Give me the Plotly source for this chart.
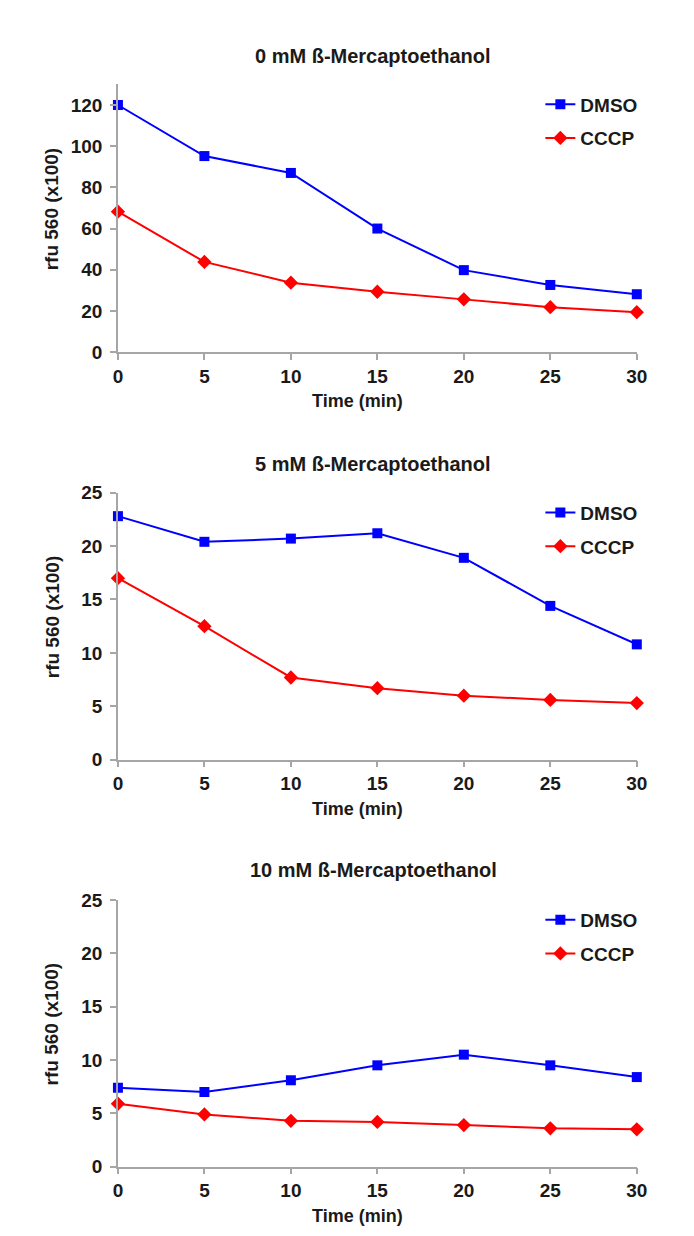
import plotly.graph_objects as go

time_min = [0, 5, 10, 15, 20, 25, 30]
x_ticks = [0, 5, 10, 15, 20, 25, 30]

titles = ["0 mM ß-Mercaptoethanol", "5 mM ß-Mercaptoethanol", "10 mM ß-Mercaptoethanol"]

dmso_0mM = [120.0, 95.2, 87.0, 60.0, 39.8, 32.6, 28.1]
cccp_0mM = [68.2, 43.8, 33.7, 29.3, 25.6, 21.8, 19.4]

dmso_5mM = [22.8, 20.4, 20.7, 21.2, 18.9, 14.4, 10.8]
cccp_5mM = [17.0, 12.5, 7.7, 6.7, 6.0, 5.6, 5.3]

dmso_10mM = [7.4, 7.0, 8.1, 9.5, 10.5, 9.5, 8.4]
cccp_10mM = [5.9, 4.9, 4.3, 4.2, 3.9, 3.6, 3.5]

y_ranges = [[0, 130], [0, 25], [0, 25]]
y_dticks = [20, 5, 5]

W, H = 694, 1236
FONT = "Liberation Sans, Arial, sans-serif"
TXT = "#1a1a1a"
AX = "#a6a6a6"
BLUE = "#0000ff"
RED = "#ff0000"

# panel pixel geometry (top, bottom) of plot area
panels = [(75.7, 348.0), (491.0, 762.7), (905.3, 1176.7)]
x_left, x_right = 115.6, 646.7

fig = go.Figure()
series = [(dmso_0mM, cccp_0mM), (dmso_5mM, cccp_5mM), (dmso_10mM, cccp_10mM)]

for i, (d, c) in enumerate(series):
    n = "" if i == 0 else str(i + 1)
    leg = "legend" if i == 0 else f"legend{i+1}"
    fig.add_trace(go.Scatter(
        x=time_min, y=d, mode="lines+markers", name="DMSO",
        line=dict(color=BLUE, width=2),
        marker=dict(symbol="square", size=10, color=BLUE),
        xaxis=f"x{n}", yaxis=f"y{n}", legend=leg, legendgroup=f"d{i}",
        cliponaxis=False))
    fig.add_trace(go.Scatter(
        x=time_min, y=c, mode="lines+markers", name="CCCP",
        line=dict(color=RED, width=2),
        marker=dict(symbol="diamond", size=11, color=RED),
        xaxis=f"x{n}", yaxis=f"y{n}", legend=leg, legendgroup=f"c{i}",
        cliponaxis=False))

layout = dict(
    width=W, height=H, margin=dict(l=0, r=0, t=0, b=0),
    paper_bgcolor="white", plot_bgcolor="white",
    font=dict(family=FONT, color=TXT),
    showlegend=True,
)

annotations = []
for i, (top, bot) in enumerate(panels):
    n = "" if i == 0 else str(i + 1)
    dom_y = [1 - bot / H, 1 - top / H]
    layout[f"xaxis{n}"] = dict(
        domain=[x_left / W, x_right / W], range=[0, 30],
        tickmode="array", tickvals=x_ticks,
        showgrid=False, zeroline=False, showline=True, linecolor=AX, linewidth=1.5,
        ticks="outside", ticklen=6, tickcolor=AX, tickwidth=1.5,
        ticklabelstandoff=0,
        tickfont=dict(family=FONT, size=19, color=TXT, weight="bold"),
        anchor=f"y{n}",
    )
    layout[f"yaxis{n}"] = dict(
        domain=dom_y, range=y_ranges[i], dtick=y_dticks[i], tick0=0,
        showgrid=False, zeroline=False, showline=True, linecolor=AX, linewidth=1.5,
        ticks="outside", ticklen=6, tickcolor=AX, tickwidth=1.5,
        ticklabelstandoff=4,
        tickfont=dict(family=FONT, size=19, color=TXT, weight="bold"),
        anchor=f"x{n}",
    )
    leg = "legend" if i == 0 else f"legend{i+1}"
    layout[leg] = dict(
        x=548 / W, y=1 - (top + 1) / H, xanchor="left", yanchor="top",
        bgcolor="rgba(0,0,0,0)", borderwidth=0,
        font=dict(family=FONT, size=19, color=TXT, weight="bold"),
        traceorder="grouped", tracegroupgap=6, itemwidth=30,
    )
    title_y = [47, 462, 875][i]
    annotations.append(dict(
        text=titles[i], xref="paper", yref="paper",
        x=377 / W, y=1 - title_y / H, xanchor="center", yanchor="middle",
        showarrow=False, font=dict(family=FONT, size=20, color=TXT, weight="bold")))
    annotations.append(dict(
        text="Time (min)", xref="paper", yref="paper",
        x=361 / W, y=1 - (bot + 50) / H, xanchor="center", yanchor="middle",
        showarrow=False, font=dict(family=FONT, size=18, color=TXT, weight="bold")))
    annotations.append(dict(
        text="rfu 560 (x100)", xref="paper", yref="paper",
        x=48 / W, y=1 - ((top + bot) / 2 - 10) / H, xanchor="center", yanchor="middle",
        textangle=-90,
        showarrow=False, font=dict(family=FONT, size=19, color=TXT, weight="bold")))

layout["annotations"] = annotations
fig.update_layout(**layout)
fig.write_html("out.html")
